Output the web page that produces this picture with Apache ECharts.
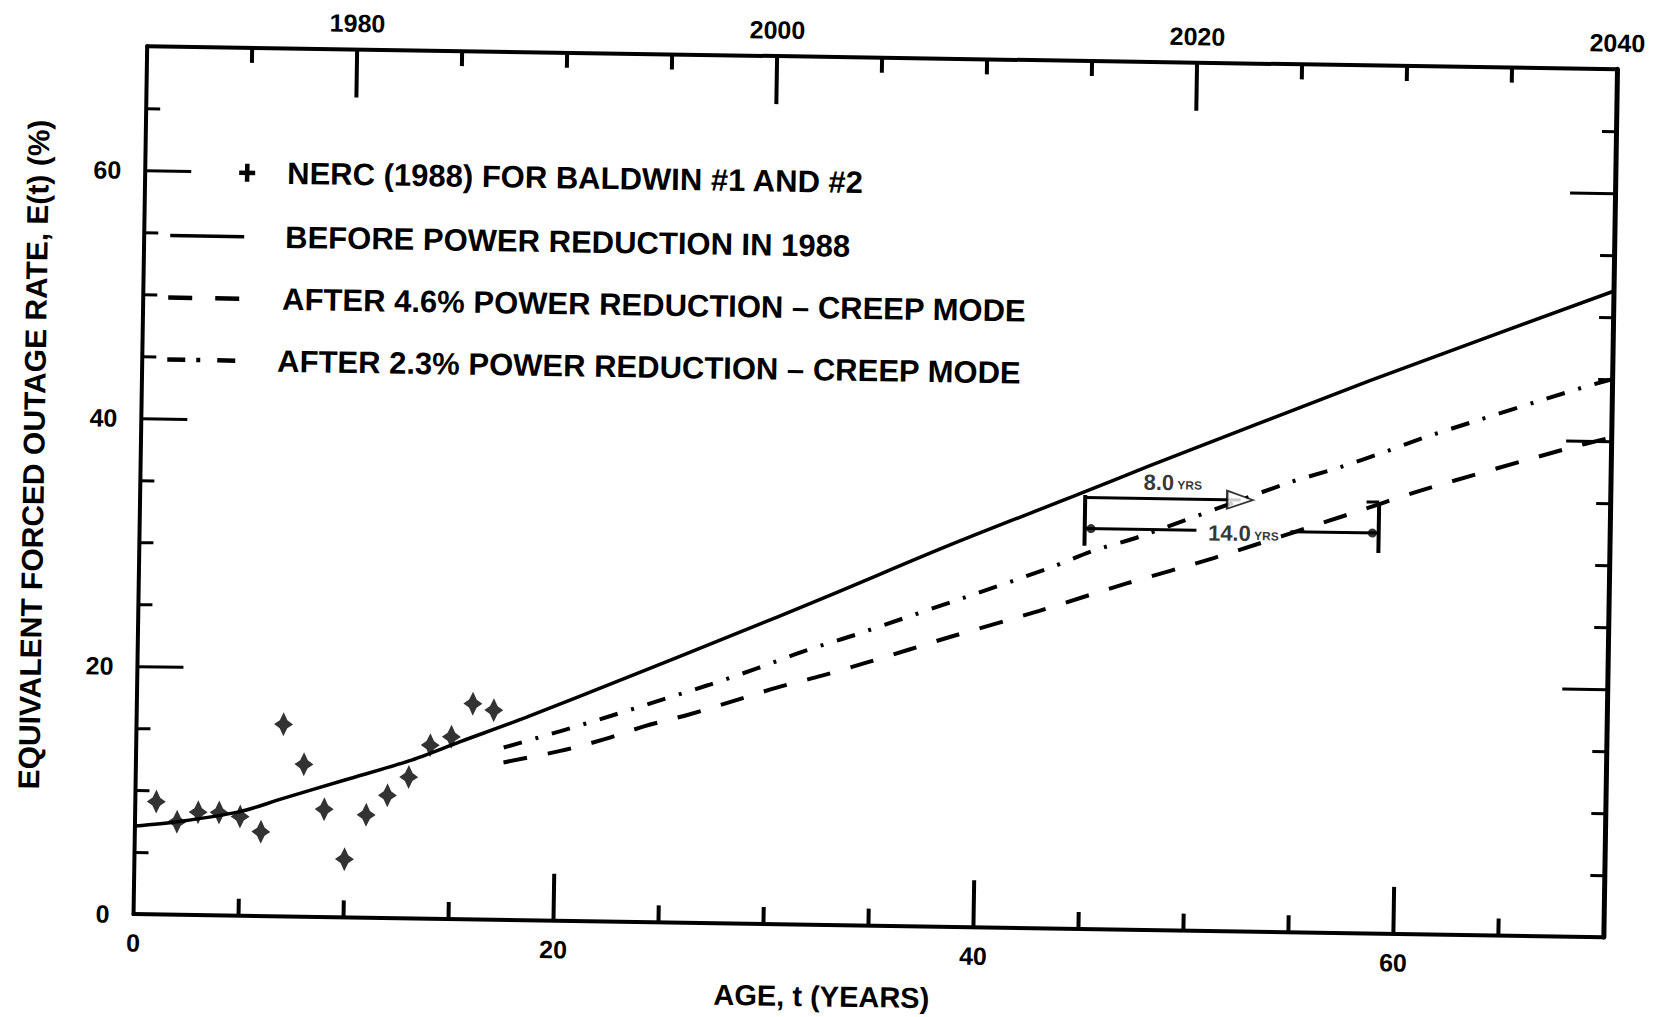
<!DOCTYPE html>
<html>
<head>
<meta charset="utf-8">
<title>Equivalent forced outage rate vs. age</title>
<script src="https://cdn.jsdelivr.net/npm/echarts@6/dist/echarts.min.js"></script>
<style>
  html, body { margin: 0; padding: 0; background: #fff; overflow: hidden; }
  /* the plate is printed slightly turned, so the whole figure is tilted a little */
  #chart { width: 1661px; height: 1017px; background: #fff; transform: rotate(0.9deg); transform-origin: 50% 50%; }
</style>
</head>
<body>
<div id="chart"></div>
<script>
// ---- axis ticks and labels ----
const ageMinorTicks = [5, 10, 15, 25, 30, 35, 45, 50, 55, 65];
const ageMajorTicks = [20, 40, 60];
const ageLabels = [0, 20, 40, 60];
const yearMinorTicks = [1975, 1985, 1990, 1995, 2005, 2010, 2015, 2025, 2030, 2035];
const yearMajorTicks = [1980, 2000, 2020];
const yearLabels = [1980, 2000, 2020, 2040];
const rateMinorTicks = [5, 10, 15, 25, 30, 35, 45, 50, 55, 65];
const rateMajorTicks = [20, 40, 60];
const rateLabels = [0, 20, 40, 60];

// ---- NERC (1988) observed outage rates, Baldwin #1 and #2 ----
const nercAges  = [1, 2, 3, 4, 5, 6, 7, 8, 9, 10, 11, 12, 13, 14, 15, 16, 17];
const nercRates = [9.1, 7.5, 8.3, 8.3, 8.0, 6.8, 15.5, 12.3, 8.7, 4.7, 8.3, 9.9, 11.4, 14.0, 14.7, 17.4, 16.9];

// ---- model curves ----
const beforeAges  = [0, 2, 5, 7, 10, 13, 15.4, 18.6, 23.3, 28.1, 32.8, 38.6, 44.6, 48, 58.5, 70];
const beforeRates = [7.1, 7.5, 8.4, 9.5, 11.1, 12.7, 14.3, 16.4, 19.7, 23.1, 26.5, 30.8, 35.0, 37.4, 44.6, 52.1];

const after46Ages  = [17.5, 20.2, 22.3, 24.2, 26.3, 28.5, 30.5, 32.6, 34.7, 36.7, 38.7, 42.9, 47.0, 51.2, 57.6, 61.0, 67.8, 70];
const after46Rates = [12.7, 13.7, 14.7, 15.8, 16.8, 18.0, 19.1, 20.1, 21.2, 22.3, 23.4, 25.6, 27.9, 30.1, 33.8, 35.8, 39.3, 40.3];

const after23Ages  = [17.5, 20.2, 22.6, 24.9, 27.2, 29.5, 31.8, 34.1, 36.4, 38.7, 43.4, 45.4, 47.6, 54.6, 57.0, 59.3, 61.5, 68.6, 70];
const after23Rates = [13.9, 15.3, 16.6, 17.9, 19.2, 20.6, 22.1, 23.4, 24.8, 26.2, 29.1, 30.5, 31.7, 36.2, 37.5, 38.9, 40.3, 44.3, 45.0];

// ---- life extension brackets ----
const extensionStartAge = 45.0;
const extension23 = 8.0;   // years gained with 2.3 % power reduction
const extension46 = 14.0;  // years gained with 4.6 % power reduction
const extensionRate23 = 34.8;
const extensionRate46 = 32.3;
const bracketTopRate = 35.0;
const bracketBottomRate = 30.9;

const legendNames = [
  'NERC (1988) FOR BALDWIN #1 AND #2',
  'BEFORE POWER REDUCTION IN 1988',
  'AFTER 4.6% POWER REDUCTION \u2013 CREEP MODE',
  'AFTER 2.3% POWER REDUCTION \u2013 CREEP MODE'
];

// ---------------------------------------------------------------
const pairs = (xs, ys) => xs.map((x, i) => [x, ys[i]]);
const INK = '#000';
const FONT = '"Liberation Sans", Arial, Helvetica, sans-serif';

const end23 = extensionStartAge + extension23;
const end46 = extensionStartAge + extension46;

const chart = echarts.init(document.getElementById('chart'), null, { renderer: 'svg' });

const gridBox = { left: 140, top: 57, width: 1470, height: 868 };

function tickAxis(extra) {
  return Object.assign({
    type: 'value',
    splitLine: { show: false },
    axisLine: { show: false, onZero: false },
    axisLabel: { show: false }
  }, extra);
}

const tickLabelStyle = { color: INK, fontFamily: FONT, fontWeight: 'bold', fontSize: 25, formatter: v => String(v) };

const segmentSeries = (name, pts, width) => ({
  name, type: 'line', xAxisIndex: 0, yAxisIndex: 0,
  data: pts, symbol: 'none', silent: true, z: 6,
  lineStyle: { color: INK, width: width || 3 }
});

const option = {
  backgroundColor: '#fff',
  animation: false,
  grid: [
    Object.assign({ containLabel: false }, gridBox),
    Object.assign({ containLabel: false }, gridBox)
  ],
  xAxis: [
    {
      type: 'value', gridIndex: 0, position: 'bottom', min: 0, max: 70,
      splitLine: { show: false },
      axisLine: { show: true, onZero: false, lineStyle: { color: INK, width: 4 } },
      axisTick: { show: true, inside: true, length: 17, customValues: ageMinorTicks, lineStyle: { color: INK, width: 4 } },
      axisLabel: Object.assign({ customValues: ageLabels, margin: 16 }, tickLabelStyle),
      name: 'AGE, t (YEARS)', nameLocation: 'middle', nameGap: 57,
      nameTextStyle: { color: INK, fontFamily: FONT, fontWeight: 'bold', fontSize: 29, padding: [0, 92, 0, 0] }
    },
    {
      type: 'value', gridIndex: 0, position: 'top', min: 1970, max: 2040,
      splitLine: { show: false },
      axisLine: { show: true, onZero: false, lineStyle: { color: INK, width: 4 } },
      axisTick: { show: true, inside: true, length: 15, customValues: yearMinorTicks, lineStyle: { color: INK, width: 4 } },
      axisLabel: Object.assign({ customValues: yearLabels, margin: 14 }, tickLabelStyle)
    },
    tickAxis({ gridIndex: 1, position: 'bottom', min: 0, max: 70,
      axisTick: { show: true, inside: true, length: 47, customValues: ageMajorTicks, lineStyle: { color: INK, width: 4 } } }),
    tickAxis({ gridIndex: 1, position: 'top', min: 1970, max: 2040,
      axisTick: { show: true, inside: true, length: 48, customValues: yearMajorTicks, lineStyle: { color: INK, width: 4 } } })
  ],
  yAxis: [
    {
      type: 'value', gridIndex: 0, position: 'left', min: 0, max: 70,
      splitLine: { show: false },
      axisLine: { show: true, onZero: false, lineStyle: { color: INK, width: 4 } },
      axisTick: { show: true, inside: true, length: 14, customValues: rateMinorTicks, lineStyle: { color: INK, width: 3 } },
      axisLabel: Object.assign({ customValues: rateLabels, margin: 24 }, tickLabelStyle),
      name: 'EQUIVALENT FORCED OUTAGE RATE, E(t) (%)', nameLocation: 'middle', nameGap: 92,
      nameTextStyle: { color: INK, fontFamily: FONT, fontWeight: 'bold', fontSize: 30, padding: [0, 0, 0, 48] }
    },
    {
      type: 'value', gridIndex: 0, position: 'right', min: 0, max: 70,
      splitLine: { show: false },
      axisLine: { show: true, onZero: false, lineStyle: { color: INK, width: 5 } },
      axisTick: { show: true, inside: true, length: 14, customValues: rateMinorTicks, lineStyle: { color: INK, width: 3 } },
      axisLabel: { show: false }
    },
    tickAxis({ gridIndex: 1, position: 'left', min: 0, max: 70,
      axisTick: { show: true, inside: true, length: 46, customValues: rateMajorTicks, lineStyle: { color: INK, width: 3 } } }),
    tickAxis({ gridIndex: 1, position: 'right', min: 0, max: 70,
      axisTick: { show: true, inside: true, length: 45, customValues: rateMajorTicks, lineStyle: { color: INK, width: 3 } } })
  ],
  series: [
    {
      name: legendNames[0], type: 'scatter', xAxisIndex: 0, yAxisIndex: 0,
      data: pairs(nercAges, nercRates),
      symbol: 'path://M0,-12 L4,-4 L10,0 L4,4 L0,12 L-4,4 L-10,0 L-4,-4 Z',
      symbolSize: [19, 24], itemStyle: { color: INK }, z: 5
    },
    {
      name: legendNames[1], type: 'line', xAxisIndex: 0, yAxisIndex: 0,
      data: pairs(beforeAges, beforeRates), symbol: 'none', smooth: 0.3,
      lineStyle: { color: INK, width: 3.5, type: 'solid' }, z: 4
    },
    {
      name: legendNames[2], type: 'line', xAxisIndex: 0, yAxisIndex: 0,
      data: pairs(after46Ages, after46Rates), symbol: 'none', smooth: 0.3,
      lineStyle: { color: INK, width: 4, type: [24, 21] }, z: 4
    },
    {
      name: legendNames[3], type: 'line', xAxisIndex: 0, yAxisIndex: 0,
      data: pairs(after23Ages, after23Rates), symbol: 'none', smooth: 0.3,
      lineStyle: { color: INK, width: 4, type: [19, 14, 3, 14] }, z: 4
    },
    // left bracket at the start of the extension
    segmentSeries('bracketStart', [[extensionStartAge, bracketTopRate], [extensionStartAge, bracketBottomRate]], 4),
    // 2.3 % extension arrow shaft
    segmentSeries('shaft23', [[extensionStartAge, extensionRate23], [end23 - 0.6, extensionRate23]], 3),
    // 4.6 % extension dimension line, broken for its label
    segmentSeries('shaft46a', [[extensionStartAge, extensionRate46], [extensionStartAge + extension46 * 0.38, extensionRate46]], 3),
    segmentSeries('shaft46b', [[extensionStartAge + extension46 * 0.70, extensionRate46], [end46, extensionRate46]], 3),
    // right bracket at the end of the 4.6 % extension
    segmentSeries('bracketEnd', [[end46, extensionRate23], [end46, bracketBottomRate - 0.2]], 4),
    segmentSeries('bracketEndCap', [[end46 - 0.6, extensionRate23], [end46, extensionRate23]], 3),
    {
      name: 'arrowHead23', type: 'scatter', xAxisIndex: 0, yAxisIndex: 0, silent: true, z: 7,
      data: [[end23, extensionRate23]],
      symbol: 'emptyTriangle', symbolSize: [18, 26], symbolRotate: -90, symbolOffset: [-13, 0],
      itemStyle: { color: INK, borderColor: INK, borderWidth: 3.5 }
    },
    {
      name: 'dimensionDots', type: 'scatter', xAxisIndex: 0, yAxisIndex: 0, silent: true, z: 7,
      data: [[extensionStartAge + 0.3, extensionRate46], [end46 - 0.3, extensionRate46]],
      symbol: 'circle', symbolSize: 9, itemStyle: { color: INK }
    },
    {
      name: 'extensionLabels', type: 'scatter', xAxisIndex: 0, yAxisIndex: 0, silent: true, z: 8,
      data: [
        { value: [extensionStartAge + extension23 * 0.52, extensionRate23 + 1.3], years: extension23 },
        { value: [extensionStartAge + extension46 * 0.54, extensionRate46 - 0.2], years: extension46 }
      ],
      symbolSize: 1, itemStyle: { color: 'rgba(0,0,0,0)' },
      label: {
        show: true, position: 'inside',
        formatter: p => '{n|' + p.data.years.toFixed(1) + '} {u|YRS}',
        rich: {
          n: { color: INK, fontFamily: FONT, fontWeight: 'bold', fontSize: 22 },
          u: { color: INK, fontFamily: FONT, fontWeight: 'bold', fontSize: 12, padding: [5, 0, 0, 0] }
        }
      }
    }
  ],
  graphic: {
    elements: [
      // key: observed points
      { type: 'line', shape: { x1: 234, y1: 182, x2: 250, y2: 182 }, style: { stroke: INK, lineWidth: 4.5 } },
      { type: 'line', shape: { x1: 242, y1: 173, x2: 242, y2: 191 }, style: { stroke: INK, lineWidth: 4.5 } },
      // key: model curves
      { type: 'line', shape: { x1: 166, y1: 246, x2: 240, y2: 246 }, style: { stroke: INK, lineWidth: 3.5 } },
      { type: 'line', shape: { x1: 165, y1: 308, x2: 236, y2: 308 }, style: { stroke: INK, lineWidth: 4.5, lineDash: [24, 23] } },
      { type: 'line', shape: { x1: 165, y1: 370, x2: 234, y2: 370 }, style: { stroke: INK, lineWidth: 4.5, lineDash: [18, 11, 4, 17] } },
      { type: 'text', x: 282, y: 182, style: { text: legendNames[0], fill: INK, font: 'bold 31px ' + FONT, verticalAlign: 'middle', align: 'left' } },
      { type: 'text', x: 281, y: 246, style: { text: legendNames[1], fill: INK, font: 'bold 31px ' + FONT, verticalAlign: 'middle', align: 'left' } },
      { type: 'text', x: 279, y: 308, style: { text: legendNames[2], fill: INK, font: 'bold 31px ' + FONT, verticalAlign: 'middle', align: 'left' } },
      { type: 'text', x: 275, y: 370, style: { text: legendNames[3], fill: INK, font: 'bold 31px ' + FONT, verticalAlign: 'middle', align: 'left' } }
    ]
  }
};

chart.setOption(option);
</script>
</body>
</html>
